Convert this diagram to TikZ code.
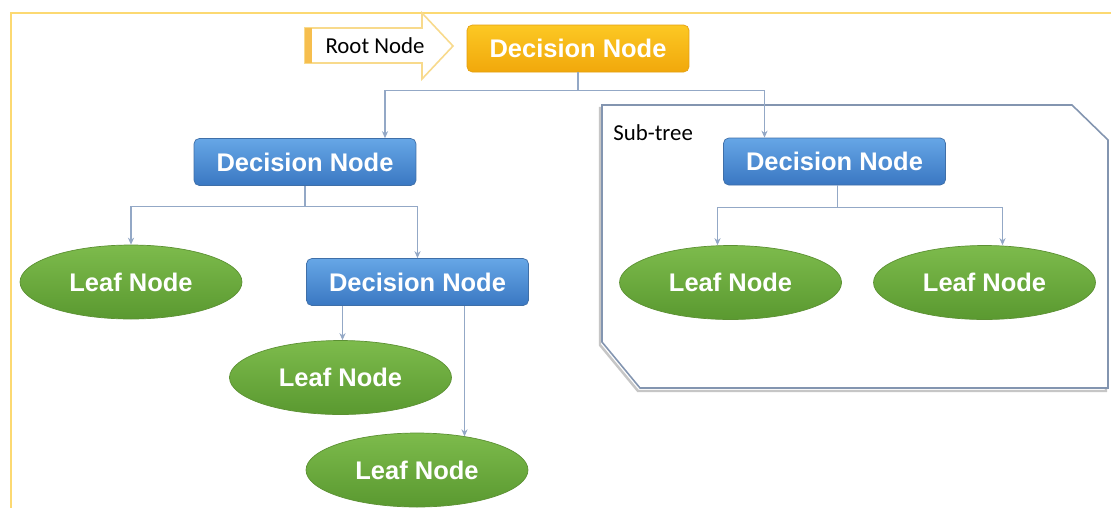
\documentclass[tikz,border=0pt]{standalone}
\usepackage{fontspec}
\setmainfont{Liberation Sans}
\newfontfamily\calib{Carlito}
\usetikzlibrary{arrows.meta,calc,shapes.geometric}
\definecolor{blueT}{HTML}{66A6E6}
\definecolor{blueB}{HTML}{3A77C2}
\definecolor{blueD}{HTML}{3F6FA8}
\definecolor{greenT}{HTML}{7DBB4C}
\definecolor{greenB}{HTML}{5A9930}
\definecolor{greenD}{HTML}{5C9133}
\definecolor{yelT}{HTML}{FCC823}
\definecolor{yelB}{HTML}{F1A80C}
\definecolor{yelD}{HTML}{E5A010}
\definecolor{frameY}{HTML}{FCD972}
\definecolor{connC}{HTML}{93A8C6}
\definecolor{boxC}{HTML}{8395B0}
\definecolor{arrowO}{HTML}{F8DA8C}
\definecolor{stripeO}{HTML}{F6BE4E}
\begin{document}
\begin{tikzpicture}[x=0.02cm,y=-0.02cm,
  dnode/.style={rounded corners=3pt, minimum width=4.44cm, minimum height=0.94cm,
    top color=blueT, bottom color=blueB, draw=blueD, line width=0.4pt,
    text=white, font=\fontsize{14.5}{16}\selectfont\bfseries, inner sep=0pt},
  rnode/.style={dnode, top color=yelT, bottom color=yelB, draw=yelD},
  leaf/.style={ellipse, minimum width=4.44cm, minimum height=1.48cm, inner sep=0pt,
    top color=greenT, bottom color=greenB, draw=greenD, line width=0.4pt,
    text=white, font=\fontsize{14.5}{16}\selectfont\bfseries},
  conn/.style={draw=connC, line width=0.6pt},
  tip/.style={conn, -{Stealth[length=4pt,width=3.5pt]}},
  lbl/.style={font=\calib\fontsize{13}{15}\selectfont, text=black, inner sep=0pt}
]
\useasboundingbox (0,0) rectangle (1111,508);
\fill[white] (0,0) rectangle (1111,508);
% outer frame
\draw[frameY, line width=1.2pt] (1111,13) -- (11,13) -- (11,508);

% sub-tree box
\draw[gray!45, line width=1.4pt, shift={(-2,3)}] (602,105) -- (1072,105) -- (1108,140) -- (1108,388) -- (640,388) -- (602,342) -- cycle;
\draw[boxC, line width=0.9pt, fill=white] (602,105) -- (1072,105) -- (1108,140) -- (1108,388) -- (640,388) -- (602,342) -- cycle;
\node[lbl, anchor=west] (subtree) at (613,133) {Sub-tree};

% root arrow
\draw[arrowO, line width=0.9pt, fill=white] (305,28) -- (422,28) -- (422,13) -- (453,46) -- (422,79) -- (422,63) -- (305,63) -- cycle;
\fill[stripeO] (305,28) rectangle (312,63);
\node[lbl] (rootlbl) at (375,45.5) {Root Node};

% nodes
\node[rnode] (root) at (578,48.5) {Decision Node};
\node[dnode] (dl) at (305,162) {Decision Node};
\node[dnode] (ds) at (834.5,161.5) {Decision Node};
\node[dnode] (dn2) at (417.5,282) {Decision Node};
\node[leaf] (ll) at (131,282) {Leaf Node};
\node[leaf] (l2) at (340.5,377.5) {Leaf Node};
\node[leaf] (l3) at (417,470) {Leaf Node};
\node[leaf] (l4) at (730.5,282.5) {Leaf Node};
\node[leaf] (l5) at (984.5,282.5) {Leaf Node};

% connectors
\coordinate (j0) at ($(root.south)+(0,18)$);
\coordinate (tA) at ($(dl.north)+(80,0)$);
\coordinate (tB) at ($(ds.north)+(-70,0)$);
\draw[conn] (root.south) -- (j0);
\draw[tip] (j0) -| (tA);
\draw[tip] (j0) -| (tB);

\coordinate (j1) at ($(dl.south)+(0,21)$);
\draw[conn] (dl.south) -- (j1);
\draw[tip] (j1) -| (ll.north);
\draw[tip] (j1) -| (dn2.north);

\coordinate (s2) at ($(dn2.south)+(-75,0)$);
\coordinate (s3) at ($(dn2.south)+(47,0)$);
\draw[tip] (s2) -- (s2 |- l2.north);
\draw[tip] (s3) -- (s3 |- l3.35);

\coordinate (j2) at ($(ds.south)+(3,22)$);
\coordinate (t4) at ($(l4.north)+(-13,0)$);
\coordinate (t5) at ($(l5.north)+(18,0)$);
\draw[conn] (ds.south -| j2) -- (j2);
\draw[tip] (j2) -| (t4);
\draw[tip] (j2) -| (t5);
\end{tikzpicture}
\end{document}
